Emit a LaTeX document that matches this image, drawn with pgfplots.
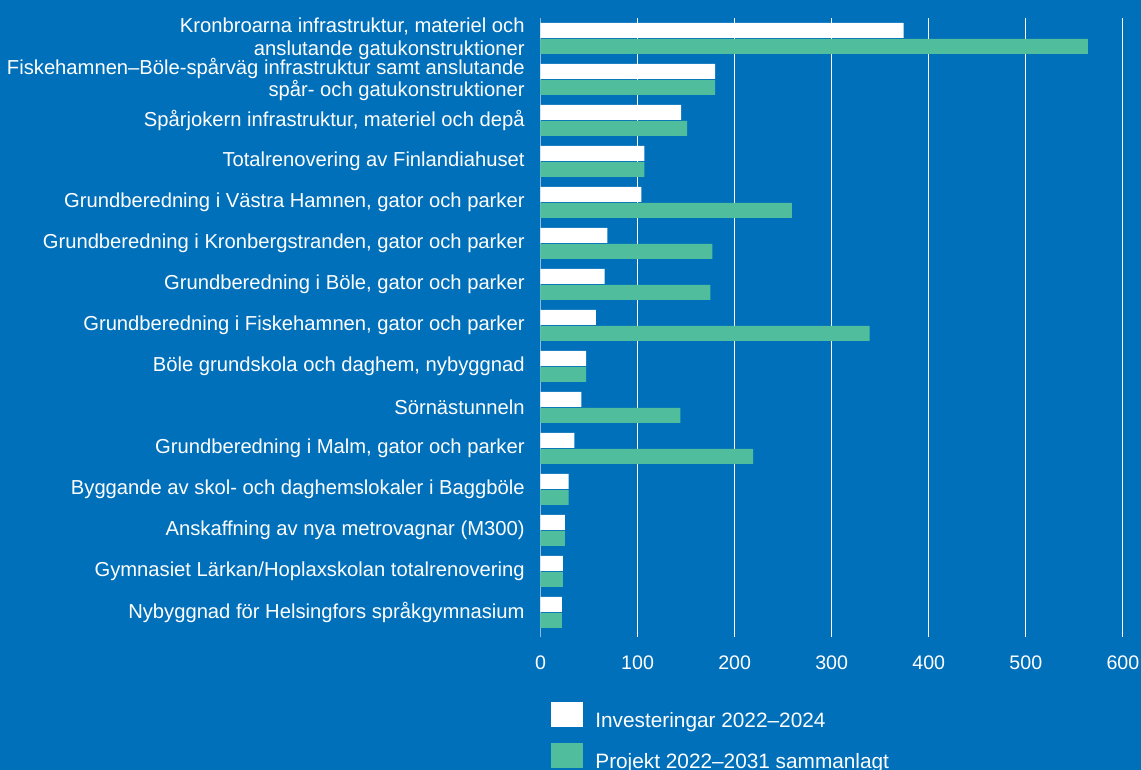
\documentclass[border=0pt]{standalone}
\usepackage{pgfplots}
\pgfplotsset{compat=1.18}
\usepackage{fontspec}
\setmainfont{Liberation Sans}
\definecolor{bgblue}{HTML}{0070BA}
\definecolor{barGreen}{HTML}{50BE9C}
\definecolor{axisLight}{HTML}{8DB9E2}

\begin{document}
\begin{tikzpicture}
% 1 px of the reference = 0.5pt
\useasboundingbox (0,0) rectangle (570.5pt,-385pt);
\clip (0,0) rectangle (570.5pt,-385pt);
\fill[bgblue] (0,0) rectangle (570.5pt,-385pt);
\begin{axis}[
    at={(270.25pt,-318.5pt)}, anchor=south west,
    scale only axis, width=291.2pt, height=309.5pt,
    xbar, bar width=7.5pt,
    xmin=0, xmax=600, ymin=0.4, ymax=15.5,
    axis line style={draw=none},
    major tick length=0pt,
    xtick={100,200,...,600},
    extra x ticks={0},
    extra x tick style={grid style={axisLight, line width=0.7pt}},
    xmajorgrids,
    grid style={white, line width=0.5pt},
    ytick={1,...,15},
    yticklabels={
        {Nybyggnad för Helsingfors språkgymnasium},
        {Gymnasiet Lärkan/Hoplaxskolan totalrenovering},
        {Anskaffning av nya metrovagnar (M300)},
        {Byggande av skol- och daghemslokaler i Baggböle},
        {Grundberedning i Malm, gator och parker},
        {Sörnästunneln},
        {Böle grundskola och daghem, nybyggnad},
        {Grundberedning i Fiskehamnen, gator och parker},
        {Grundberedning i Böle, gator och parker},
        {Grundberedning i Kronbergstranden, gator och parker},
        {Grundberedning i Västra Hamnen, gator och parker},
        {Totalrenovering av Finlandiahuset},
        {Spårjokern infrastruktur, materiel och depå},
        {Fiskehamnen--Böle-spårväg infrastruktur samt anslutande\\spår- och gatukonstruktioner},
        {Kronbroarna infrastruktur, materiel och\hspace{3pt}\\anslutande gatukonstruktioner}
    },
    /pgf/number format/assume math mode=true,
    xticklabel style={text=white, font=\fontsize{9.8}{11}\selectfont, inner sep=0pt},
    yticklabel style={text=white, font=\fontsize{10.1}{11.4}\selectfont, inner sep=0pt, align=right},
    yticklabel shift=7.75pt,
    xticklabel shift=9pt,
    legend image code/.code={\fill[#1] (0pt,-2.75pt) rectangle (16pt,9.75pt);},
    legend style={
        at={(axis description cs:0.018,-0.105)}, anchor=north west,
        draw=none, fill=none, inner sep=0pt, row sep=6pt,
        font=\fontsize{10.4}{12}\selectfont, text=white,
        nodes={inner sep=0pt},
        /tikz/every odd column/.append style={column sep=6pt}
    },
    legend cell align=left,
]
\addplot[fill=white, draw=none, bar shift=4pt] coordinates {
    (374,15) (180,14) (145,13) (107,12) (104,11) (69,10) (66,9) (57,8)
    (47,7) (42,6) (35,5) (29,4) (25,3) (23,2) (22,1)
};
\addplot[fill=barGreen, draw=none, bar shift=-4pt] coordinates {
    (564,15) (180,14) (151,13) (107,12) (259,11) (177,10) (175,9) (339,8)
    (47,7) (144,6) (219,5) (29,4) (25,3) (23,2) (22,1)
};
\legend{Investeringar 2022--2024, Projekt 2022--2031 sammanlagt}
\end{axis}
\end{tikzpicture}
\end{document}
